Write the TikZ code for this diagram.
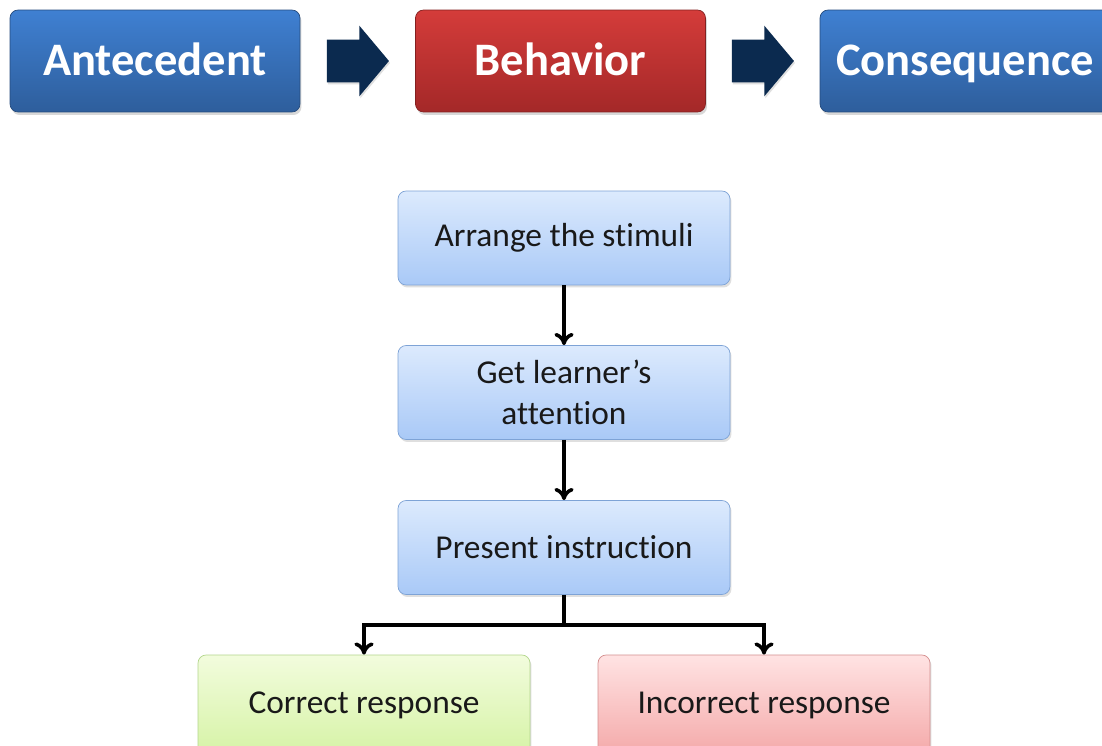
\documentclass[tikz,border=0pt]{standalone}
\usepackage{fontspec}
\setmainfont{Carlito}[Ligatures=CommonOff]
\usepackage{tikz}
\usetikzlibrary{shapes,arrows.meta,positioning,shadows,calc}

\definecolor{abcblueT}{HTML}{3F80D2}
\definecolor{abcblueB}{HTML}{2E5E9C}
\definecolor{abcredT}{HTML}{D43C3A}
\definecolor{abcredB}{HTML}{A42828}
\definecolor{abcnavy}{HTML}{0B2A4F}
\definecolor{stepT}{HTML}{DCEAFD}
\definecolor{stepB}{HTML}{A9C9F7}
\definecolor{stepline}{HTML}{7EA3D6}
\definecolor{okT}{HTML}{F2FCDD}
\definecolor{okB}{HTML}{D6F3A6}
\definecolor{okline}{HTML}{B3D68C}
\definecolor{badT}{HTML}{FFE3E3}
\definecolor{badB}{HTML}{F4A9A9}
\definecolor{badline}{HTML}{D48E8E}

\begin{document}
\begin{tikzpicture}[x=0.02cm,y=-0.02cm,
		abcbox/.style={rectangle, rounded corners=0.16cm, minimum width=5.8cm, minimum height=2.04cm,
			text=white, font=\fontsize{26.5}{31}\bfseries\selectfont, text height=22pt, text depth=5pt,
			drop shadow={opacity=0.3, shadow xshift=0.03cm, shadow yshift=-0.06cm}},
		bluebox/.style={abcbox, draw=abcblueB!80!black, top color=abcblueT, bottom color=abcblueB},
		redbox/.style={abcbox, draw=abcredB!80!black, top color=abcredT, bottom color=abcredB},
		bigarrow/.style={single arrow, fill=abcnavy, draw=none, minimum height=1.24cm,
			text height=0pt, text depth=0pt, text width=0pt, inner xsep=0pt, inner ysep=0.42cm,
			single arrow head extend=0.28cm, single arrow tip angle=100,
			drop shadow={opacity=0.25, shadow xshift=0.02cm, shadow yshift=-0.04cm}},
		stepbox/.style={rectangle, rounded corners=0.16cm, minimum width=6.64cm, minimum height=1.88cm,
			align=center, text=black!90, font=\fontsize{19}{23}\selectfont,
			drop shadow={opacity=0.25, shadow xshift=0.03cm, shadow yshift=-0.05cm}},
		bluestep/.style={stepbox, draw=stepline, top color=stepT, bottom color=stepB},
		greenstep/.style={stepbox, draw=okline, top color=okT, bottom color=okB, minimum height=2cm},
		redstep/.style={stepbox, draw=badline, top color=badT, bottom color=badB, minimum height=2cm},
		link/.style={line width=2pt, -{To[length=7pt,width=11pt,line width=2pt]}}
	]
		\clip (0,0) rectangle (1102,746);
		\fill[white] (0,0) rectangle (1102,746);

		\node[bluebox] (ante) at (155,61) {Antecedent};
		\node[bigarrow] (arr1) at (349,61) {};
		\node[redbox] (beh) at (560.5,61) {Behavior};
		\node[bigarrow] (arr2) at (754,61) {};
		\node[bluebox] (cons) at (965,61) {Consequence};

		\node[bluestep] (arrange) at (564,238) {Arrange the stimuli};
		\node[bluestep] (attn) at (564,392.5) {Get learner's\\attention};
		\node[bluestep] (instr) at (564,547.5) {Present instruction};
		\node[greenstep] (correct) at (364,705) {Correct response};
		\node[redstep] (wrong) at (764,705) {Incorrect response};

		\draw[link] (arrange) -- (attn);
		\draw[link] (attn) -- (instr);
		\coordinate (split) at ($(instr.south)+(0,30)$);
		\draw[line width=2pt] (instr) -- (split);
		\draw[link] (split) -| (correct);
		\draw[link] (split) -| (wrong);
\end{tikzpicture}
\end{document}
